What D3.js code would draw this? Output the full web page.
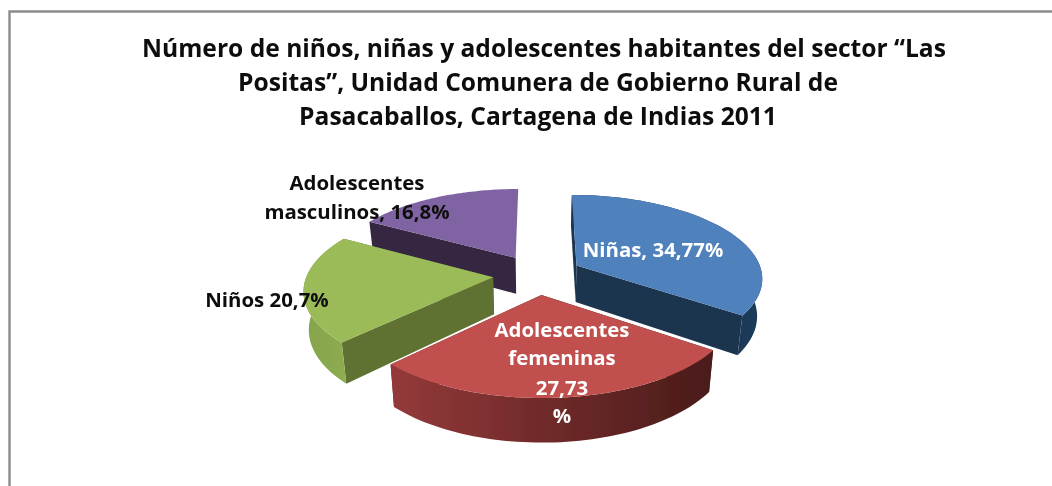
<!DOCTYPE html>
<html><head><meta charset="utf-8">
<script src="https://cdn.jsdelivr.net/npm/d3@7"></script>
<style>html,body{margin:0;padding:0;background:#fff}svg{display:block}text{font-family:"Open Sans",Lato,sans-serif;font-weight:700}</style>
</head><body><svg id="c" width="1052" height="486"></svg>
<script>
const titleLines = ["Número de niños, niñas y adolescentes habitantes del sector “Las","Positas”, Unidad Comunera de Gobierno Rural de","Pasacaballos, Cartagena de Indias 2011"];
const categories = ["Niñas","Adolescentes femeninas","Niños","Adolescentes masculinos"];
const values = [34.77,27.73,20.7,16.8];
const labelLines = [["Niñas, 34,77%"],["Adolescentes","femeninas","27,73","%"],["Niños 20,7%"],["Adolescentes","masculinos, 16,8%"]];
const topColors = ["#4f81bd","#c0504d","#9bbb59","#8064a2"];
const wallColors = ["#1f3550","#4f1c1a","#5f7233","#352642"];
const outerStart = ["#1f3550","#94393a","#85a34a","#352642"];
const outerEnd = ["#1f3a5a","#4a1b19","#8dac50","#352642"];
const labelColors = ["#fff","#fff","#111","#111"];

const W=1052,H=486;
const svg=d3.select("#c");
const cx=537.5,cy=274.5,sx=186,sy=82.6,persp=0.138,explode=0.24,depth=37;
const f=Y=>1/(1-persp*Y);
const project=(X,Y,down)=>{const k=f(Y),x=cx+X*sx*k,y=cy+Y*sy*k;
  return down?[cx+(x-cx)*0.977,y+depth*k]:[x,y];};
const pie=d3.pie().sort(null).value(d=>d)(values);
const line=d3.line();
const defs=svg.append("defs");
defs.append("filter").attr("id","soft").attr("filterUnits","userSpaceOnUse").attr("x",0).attr("y",0).attr("width",W).attr("height",H)
  .append("feGaussianBlur").attr("stdDeviation",0.5);
const root=svg.append("g").attr("filter","url(#soft)");

root.append("path").attr("d",`M9.5 486V11.5H${W}`).attr("fill","none").attr("stroke","#8c8c8c").attr("stroke-width",2.4);

const t=root.append("g").attr("text-anchor","middle").attr("font-size",24.6).attr("fill","#111");
titleLines.forEach((s,i)=>t.append("text").attr("x",[544,538,538][i]).attr("y",[57,91,125][i]).text(s));

const slices=pie.map((p,i)=>{
  const mid=(p.startAngle+p.endAngle)/2;
  const ox=Math.sin(mid)*explode, oy=-Math.cos(mid)*explode;
  const pt=(a,r,down)=>project(ox+Math.sin(a)*r,oy-Math.cos(a)*r,down);
  const angles=d3.range(0,61).map(j=>p.startAngle+(p.endAngle-p.startAngle)*j/60);
  return {i,p,pt,angles};
});
const order=[3,2,0,1];
order.forEach(i=>{
  const s=slices[i],g=root.append("g");
  const {pt,angles,p}=s;
  const arcTop=angles.map(a=>pt(a,1,false));
  const arcBot=angles.map(a=>pt(a,1,true));
  const id="g"+i;
  const lg=defs.append("linearGradient").attr("id",id).attr("gradientUnits","userSpaceOnUse")
    .attr("x1",d3.min(arcTop,d=>d[0])).attr("x2",d3.max(arcTop,d=>d[0])).attr("y1",0).attr("y2",0);
  lg.append("stop").attr("offset",0).attr("stop-color",outerStart[i]);
  lg.append("stop").attr("offset",1).attr("stop-color",outerEnd[i]);
  [p.startAngle,p.endAngle].filter(a=>a<2*Math.PI-0.01).forEach(a=>{
    g.append("path").attr("d",line([pt(a,0,false),pt(a,1,false),pt(a,1,true),pt(a,0,true)])+"Z").attr("fill",wallColors[i]);
  });
  const backOnly=Math.cos(p.startAngle)>0&&Math.cos(p.endAngle)>0&&p.endAngle-p.startAngle<Math.PI;
  if(!backOnly) g.append("path").attr("d",line(arcTop.concat(arcBot.slice().reverse()))+"Z").attr("fill",`url(#${id})`);
  g.append("path").attr("d",line([pt(0,0,false)].concat(arcTop))+"Z").attr("fill",topColors[i]);
});

const labelX=[653,562,267,357];
const labelY=[[257],[337,365,395,423],[307],[190,219]];
labelLines.forEach((ls,i)=>{
  const g=root.append("g").attr("text-anchor","middle").attr("font-size",20.4).attr("fill",labelColors[i]);
  ls.forEach((s,j)=>g.append("text").attr("x",labelX[i]).attr("y",labelY[i][j]).text(s));
});
</script></body></html>
